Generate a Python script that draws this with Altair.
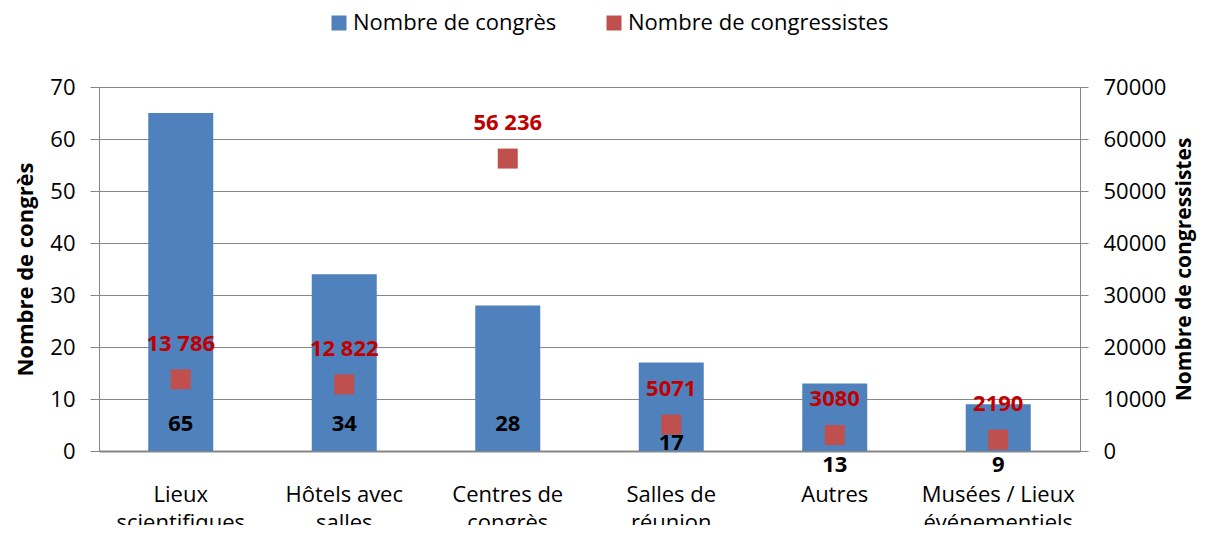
import altair as alt
import pandas as pd

# ---- data ----
categories = [
    "Lieux\nscientifiques",
    "Hôtels avec\nsalles",
    "Centres de\ncongrès",
    "Salles de\nréunion",
    "Autres",
    "Musées / Lieux\névénementiels",
]
congres = [65, 34, 28, 17, 13, 9]
congressistes = [13786, 12822, 56236, 5071, 3080, 2190]
series_names = ["Nombre de congrès", "Nombre de congressistes"]
left_ticks = [0, 10, 20, 30, 40, 50, 60, 70]
right_ticks = [0, 10000, 20000, 30000, 40000, 50000, 60000, 70000]

# ---- layout (pixel offsets of the count labels, as placed in the original) ----
count_label_offsets = [-27.5, -27.5, -27.5, -8, 13.5, 13.5]

FONT = "Open Sans"
BLUE = "#4F81BD"
RED = "#C0504D"
GRID = "#868686"

df = pd.DataFrame({
    "category": categories,
    "congres": congres,
    "congressistes": congressistes,
    "label_dy": count_label_offsets,
})

color_scale = alt.Scale(domain=series_names, range=[BLUE, RED])
legend = alt.Legend(
    orient="none", legendX=229, legendY=-75, direction="horizontal",
    title=None, symbolType="square", symbolSize=225, symbolStrokeWidth=0,
    labelFont=FONT, labelFontSize=22, labelColor="#000000", labelOffset=3,
    columnPadding=46, labelLimit=400,
)

x_enc = alt.X(
    "category:N", sort=categories,
    scale=alt.Scale(paddingInner=0.6, paddingOuter=0.3),
    axis=alt.Axis(
        title=None, ticks=False, labelAngle=0, labelPadding=33,
        labelBaseline="top", labelLineHeight=28, labelFontSize=22,
        labelFont=FONT, labelColor="#000000", labelLimit=400,
        labelExpr="split(datum.value, '\\n')",
        domainColor=GRID, domainWidth=2, grid=False,
    ),
)

left_scale = alt.Scale(domain=[0, 70])
right_scale = alt.Scale(domain=[0, 70000])

right_axis = alt.Axis(
    orient="right", values=right_ticks, format="d", title="Nombre de congressistes",
    grid=False, domainColor=GRID, tickColor=GRID, tickSize=8,
    labelPadding=15, labelFontSize=22, labelFont=FONT,
    labelColor="#000000", titleFont=FONT, titleFontSize=21,
    titleFontWeight="bold", titleColor="#000000", titleAngle=270,
    titleX=104, titleY=182, titleAlign="center", titleBaseline="middle",
)

base = alt.Chart(df)

bars = base.transform_calculate(series="'Nombre de congrès'").mark_bar(
    size=65
).encode(
    x=x_enc,
    y=alt.Y(
        "congres:Q", scale=left_scale,
        axis=alt.Axis(
            values=left_ticks, title="Nombre de congrès", grid=True,
            gridColor=GRID, gridWidth=1, domainColor=GRID, tickColor=GRID,
            tickSize=9, labelPadding=15, labelFontSize=22, labelFont=FONT,
            labelColor="#000000", titleFont=FONT, titleFontSize=22,
            titleFontWeight="bold", titleColor="#000000", titleAngle=270,
            titleX=-74, titleY=182, titleAlign="center", titleBaseline="middle",
        ),
    ),
    color=alt.Color("series:N", scale=color_scale, legend=legend),
)

count_text = base.mark_text(
    font=FONT, fontSize=22, fontWeight="bold", color="#000000", baseline="middle"
).encode(
    x=alt.X("category:N", sort=categories),
    y=alt.datum(0, scale=left_scale),
    yOffset=alt.YOffset("label_dy:Q", scale=None),
    text=alt.Text("congres:Q"),
)

points = base.transform_calculate(series="'Nombre de congressistes'").mark_point(
    shape="square", filled=True, size=400, opacity=1
).encode(
    x=alt.X("category:N", sort=categories),
    y=alt.Y("congressistes:Q", scale=right_scale, axis=right_axis),
    color=alt.Color("series:N", scale=color_scale, legend=legend),
)

red_text = base.transform_calculate(
    lbl="datum.congressistes >= 10000 ? replace(format(datum.congressistes, ','), ',', ' ') : format(datum.congressistes, 'd')"
).mark_text(
    font=FONT, fontSize=22, fontWeight="bold", color="#C00000",
    baseline="middle", dy=-35.5,
).encode(
    x=alt.X("category:N", sort=categories),
    y=alt.Y("congressistes:Q", scale=right_scale, axis=right_axis),
    text="lbl:N",
)

left = alt.layer(bars, count_text)
right = alt.layer(points, red_text)

chart = alt.layer(left, right).resolve_scale(y="independent").properties(
    width=981, height=364,
    autosize=alt.AutoSizeParams(type="none"),
    padding={"left": 91, "top": 79, "right": 117, "bottom": 74},
).configure_view(stroke=None)

chart.save("out.html", embed_options={"renderer": "svg", "actions": False})
